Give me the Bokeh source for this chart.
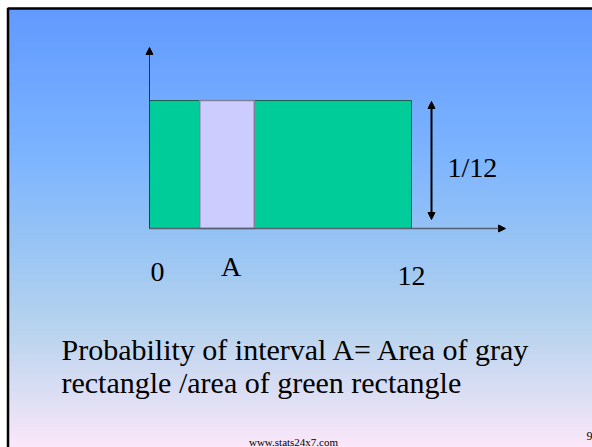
import numpy as np
from bokeh.plotting import figure
from bokeh.models import Range1d, Arrow, NormalHead
from bokeh.core.properties import value
from bokeh.embed import file_html
from bokeh.resources import INLINE

# Uniform distribution on [0, 12]
support = [0, 12]
density = 1 / 12
interval_a = [2.3, 4.8]
tick_labels = ["0", "A", "12"]
height_label = "1/12"
caption = ["Probability of interval A= Area of gray",
           "rectangle /area of green rectangle"]
footer = "www.stats24x7.com"
page_no = "9"

W, H = 592, 447

# pixel placement of the plotted frame on the slide
X0_PX, X1_PX = 149, 411
BASE_PX, TOP_PX = 228, 100
ux = (X1_PX - X0_PX) / (support[1] - support[0])
uy = (BASE_PX - TOP_PX) / density
x_start = support[0] - X0_PX / ux
x_end = x_start + W / ux
y_end = BASE_PX / uy
y_start = y_end - H / uy


def px(x):
    return x_start + x / ux


def py(y):
    return y_end - y / uy


p = figure(width=W, height=H, x_range=Range1d(x_start, x_end),
           y_range=Range1d(y_start, y_end), output_backend="svg",
           toolbar_location=None, min_border=0)
p.axis.visible = False
p.grid.visible = False
p.outline_line_color = None
p.background_fill_color = "white"
p.border_fill_color = "white"

# slide background: vertical blue-to-pink gradient
stops_y = [8, 150, 250, 330, 400, 447]
stops_c = [(98, 154, 255), (124, 180, 255), (155, 198, 244),
           (186, 212, 238), (224, 224, 245), (253, 232, 250)]
rows = np.arange(8, H)
cols = [np.interp(rows, stops_y, [c[i] for c in stops_c]) for i in range(3)]
img = np.zeros((len(rows), 2), dtype=np.uint32)
view = img.view(dtype=np.uint8).reshape((len(rows), 2, 4))
for i in range(3):
    view[:, :, i] = cols[i][::-1, None].astype(np.uint8)
view[:, :, 3] = 255
p.image_rgba(image=[img], x=px(8), y=py(H), dw=px(W) - px(8), dh=py(8) - py(H))

# slide frame
p.line([px(7.5), px(7.5), px(W)], [py(H), py(8), py(8)], line_color="black",
       line_width=2.5)

# density rectangle and interval A
p.quad(left=[support[0]], right=[support[1]], bottom=[0], top=[density],
       fill_color="#00CC99", line_color="#1f5f50", line_width=1)
p.quad(left=[interval_a[0]], right=[interval_a[1]], bottom=[0], top=[density],
       fill_color="#CCCCFF", line_color="#80809a", line_width=1.5)

# axes with arrow heads
p.add_layout(Arrow(x_start=support[0], y_start=0, x_end=support[0], y_end=py(47),
                   line_color="#2c3440", line_width=1,
                   end=NormalHead(size=7, fill_color="black", line_color="black")))
p.add_layout(Arrow(x_start=support[0], y_start=0, x_end=px(505), y_end=0,
                   line_color="#55606e", line_width=1.5,
                   end=NormalHead(size=7, fill_color="black", line_color="black")))

# height marker
p.add_layout(Arrow(x_start=px(431), y_start=py(219), x_end=px(431), y_end=density - (101 - TOP_PX) / uy,
                   line_color="black", line_width=2,
                   start=NormalHead(size=7, fill_color="black", line_color="black"),
                   end=NormalHead(size=7, fill_color="black", line_color="black")))

serif = value("'Liberation Serif', 'Times New Roman', serif")
p.text(x=[px(447)], y=[py(167)], text=[height_label], text_font=serif,
       text_font_size="28px", text_color="black", text_baseline="alphabetic")

# tick labels under the axis
p.text(x=[support[0]], y=[py(271)], text=[tick_labels[0]], x_offset=1,
       text_font=serif, text_font_size="28px", text_baseline="alphabetic")
p.text(x=[(interval_a[0] + interval_a[1]) / 2], y=[py(266)], text=[tick_labels[1]],
       x_offset=4, text_font=serif, text_font_size="28px",
       text_align="center", text_baseline="alphabetic")
p.text(x=[support[1]], y=[py(275)], text=[tick_labels[2]], text_font=serif,
       text_font_size="28px", text_align="center", text_baseline="alphabetic")

# caption
p.text(x=[px(61), px(61)], y=[py(349), py(382)], text=caption, text_font=serif,
       text_font_size="30px", text_color="black", text_baseline="alphabetic")

# footer
p.text(x=[px(293)], y=[py(441)], text=[footer], text_font=serif,
       text_font_size="11px", text_align="center", text_baseline="alphabetic")
p.text(x=[px(586)], y=[py(435)], text=[page_no], text_font=serif,
       text_font_size="12px", text_baseline="alphabetic")

open("out.html", "w").write(file_html(p, INLINE))
